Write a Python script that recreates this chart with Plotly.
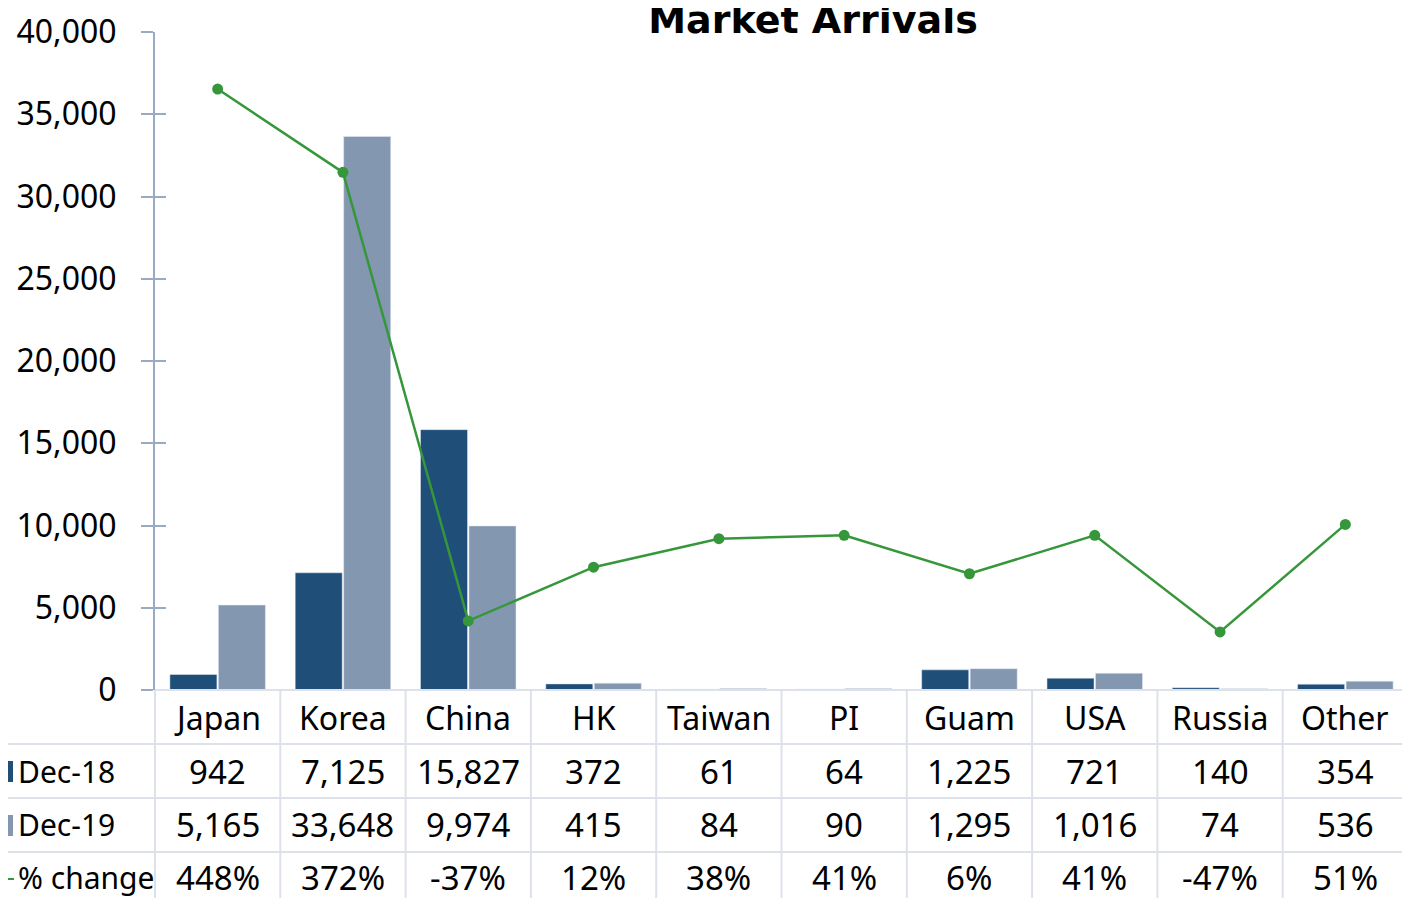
import plotly.graph_objects as go

# ---- data ----
categories = ["Japan", "Korea", "China", "HK", "Taiwan", "PI", "Guam", "USA", "Russia", "Other"]
dec_18 = [942, 7125, 15827, 372, 61, 64, 1225, 721, 140, 354]
dec_19 = [5165, 33648, 9974, 415, 84, 90, 1295, 1016, 74, 536]
pct_change = [448, 372, -37, 12, 38, 41, 6, 41, -47, 51]
y_ticks = [0, 5000, 10000, 15000, 20000, 25000, 30000, 35000, 40000]

FONT = "Noto Sans"
DARK = "#1f4e79"
LIGHT = "#8497b0"
GREEN = "#35973a"
AXIS = "#9aaac4"
GRID = "#dde1ea"

W, H = 1410, 898
OFF = 8  # page body margin shifts the figure by 8px
# plot area in screen pixels
LEFT, TOP, RIGHT, BOTTOM = 155, 32, 1408, 690
ML, MT = LEFT - OFF, TOP - OFF
MR, MB = W - (RIGHT - OFF), H - (BOTTOM - OFF)
PW, PH = RIGHT - LEFT, BOTTOM - TOP


def px_y(p):
    # screen row -> paper y
    return (BOTTOM - p) / PH


def px_x(p):
    # screen column -> paper x
    return (p - LEFT) / PW


fig = go.Figure()
fig.add_trace(go.Bar(name="Dec-18", x=categories, y=dec_18, marker_color=DARK))
fig.add_trace(go.Bar(name="Dec-19", x=categories, y=dec_19, marker_color=LIGHT))
fig.add_trace(go.Scatter(
    name="% change", x=categories, y=pct_change, yaxis="y2", mode="lines+markers",
    line=dict(color=GREEN, width=2.5), marker=dict(color=GREEN, size=11),
))
# empty trace so the inner tick axis gets drawn
fig.add_trace(go.Scatter(x=[], y=[], yaxis="y3", showlegend=False))

# ---- data table under the plot ----
rows = [
    ("Dec-18", [f"{v:,}" for v in dec_18], 771),
    ("Dec-19", [f"{v:,}" for v in dec_19], 825),
    ("% change", [f"{v}%" for v in pct_change], 878),
]
annotations = []
for c in categories:
    annotations.append(dict(x=c, xref="x", y=px_y(717), yref="paper", text=c,
                            showarrow=False, yanchor="middle", font=dict(size=32)))
for label, vals, py in rows:
    annotations.append(dict(x=px_x(16), xref="paper", y=px_y(py), yref="paper", text=label,
                            showarrow=False, xanchor="left", yanchor="middle", font=dict(size=30)))
    for c, t in zip(categories, vals):
        annotations.append(dict(x=c, xref="x", y=px_y(py), yref="paper", text=t,
                                showarrow=False, yanchor="middle", font=dict(size=33)))

shapes = []
n = len(categories)
for i in range(n + 1):
    shapes.append(dict(type="line", xref="paper", yref="paper", x0=i / n, x1=i / n,
                       y0=0, y1=px_y(H + 20), line=dict(color=GRID, width=2)))
shapes.append(dict(type="line", xref="paper", yref="paper", x0=0, x1=1, y0=0, y1=0,
                   line=dict(color=GRID, width=2)))
for py in [744, 798, 852]:
    shapes.append(dict(type="line", xref="paper", yref="paper", x0=px_x(OFF), x1=1,
                       y0=px_y(py), y1=px_y(py), line=dict(color=GRID, width=2)))
# legend keys in the table
shapes.append(dict(type="rect", xref="paper", yref="paper", x0=px_x(OFF), x1=px_x(OFF + 5),
                   y0=px_y(782), y1=px_y(761), fillcolor=DARK, line=dict(width=0)))
shapes.append(dict(type="rect", xref="paper", yref="paper", x0=px_x(OFF), x1=px_x(OFF + 5),
                   y0=px_y(836), y1=px_y(815), fillcolor=LIGHT, line=dict(width=0)))
shapes.append(dict(type="line", xref="paper", yref="paper", x0=px_x(OFF), x1=px_x(OFF + 6),
                   y0=px_y(879), y1=px_y(879), line=dict(color=GREEN, width=2)))

fig.update_layout(
    width=W, height=H,
    margin=dict(l=ML, r=MR, t=MT, b=MB, autoexpand=False),
    paper_bgcolor="white", plot_bgcolor="white",
    font=dict(family=FONT, size=31, color="black"),
    title=dict(text="Market Arrivals", x=(813 - OFF) / W, xref="container", xanchor="center",
               y=1 - (20 - OFF) / H, yref="container", yanchor="middle",
               font=dict(family="DejaVu Sans", size=38, color="black", weight="bold")),
    showlegend=False,
    barmode="group", bargap=0.226, bargroupgap=0.03,
    xaxis=dict(range=[-0.5, n - 0.5], showticklabels=False, ticks="", showline=False,
               showgrid=False, zeroline=False, automargin=False),
    yaxis=dict(range=[0, 40000], tickvals=y_ticks, tickformat=",", ticks="outside",
               ticklen=12, tickwidth=2, tickcolor=AXIS, showline=True, linecolor=AXIS,
               linewidth=2, showgrid=False, zeroline=False, ticklabelstandoff=18,
               tickfont=dict(size=32), automargin=False),
    yaxis2=dict(range=[-100, 500], overlaying="y", side="right", visible=False,
                automargin=False),
    yaxis3=dict(range=[0, 40000], overlaying="y", side="left", anchor="x",
                tickvals=y_ticks, ticks="inside", ticklen=11, tickwidth=2, tickcolor=AXIS,
                showticklabels=False, showline=False, showgrid=False, zeroline=False,
                automargin=False),
    annotations=annotations,
    shapes=shapes,
)

fig.write_html("out.html")
